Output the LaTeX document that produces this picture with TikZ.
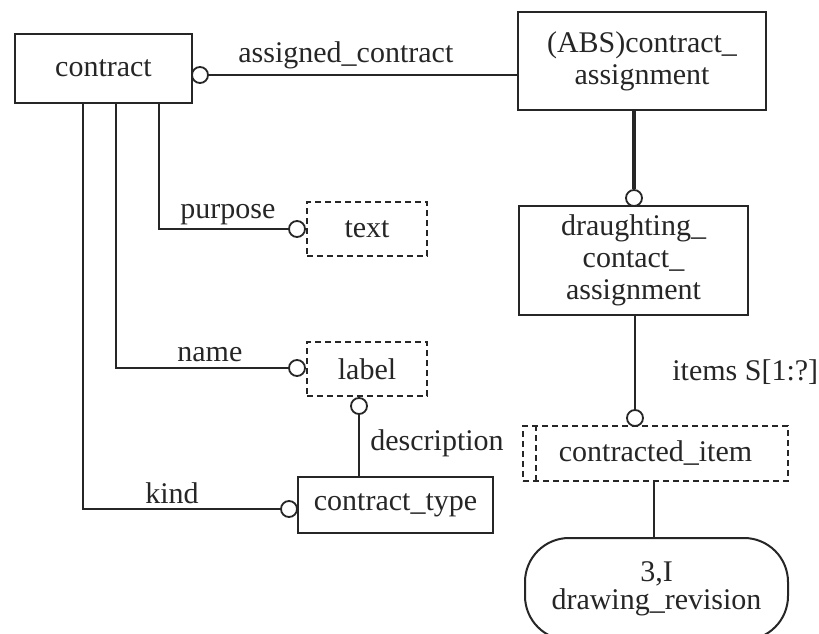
\documentclass[tikz,border=0pt]{standalone}
\usepackage{fontspec}
\setmainfont{Liberation Serif}
\begin{document}
\begin{tikzpicture}[x=0.5pt,y=-0.5pt,
  every node/.style={font=\fontsize{15}{16}\selectfont, text=black!85},
  ent/.style={draw=black!85, line width=1pt, rectangle, inner sep=0pt, align=center},
  typ/.style={ent, dash pattern=on 3pt off 2pt},
  rel/.style={draw=black!85, line width=0.9pt},
  thickrel/.style={draw=black!85, line width=1.6pt},
  ring/.style={draw=black!85, line width=0.9pt, circle, minimum size=8pt, inner sep=0pt, fill=white},
  lab/.style={anchor=base west, inner sep=0pt}
]
\useasboundingbox (0,0) rectangle (819,633);
\fill[white] (0,0) rectangle (819,633);

% entities
\node[ent, minimum width=88.5pt, minimum height=34.5pt] (contract) at (103.5,68.5) {contract};
\node[ent, minimum width=124pt, minimum height=49pt] (abs) at (642,61) {(ABS)contract\_\\assignment};
\node[ent, minimum width=114.5pt, minimum height=54.5pt] (dra) at (633.5,260.5) {draughting\_\\contact\_\\assignment};
\node[typ, minimum width=60pt, minimum height=27pt] (text) at (367,229) {text};
\node[typ, minimum width=60pt, minimum height=27pt] (label) at (367,369) {label};
\node[ent, minimum width=97.5pt, minimum height=28pt] (ctype) at (395.5,505) {contract\_type};
\node[typ, minimum width=132.5pt, minimum height=27.5pt] (citem) at (655.5,453.5) {contracted\_item};
\draw[black!85, line width=1pt, dash pattern=on 3pt off 2pt] (citem.north west) ++(14,0) coordinate (ci1) -- (ci1 |- citem.south);
\node[ent, rounded corners=22pt, minimum width=131.5pt, minimum height=51pt,
      font=\fontsize{15}{14}\selectfont] (rev) at (656.5,589) {3,I\\drawing\_revision};

% rings
\node[ring] (c1) at (200,75) {};
\node[ring] (c2) at (634,198) {};
\node[ring] (c3) at (635,418) {};
\node[ring] (c4) at (297,229) {};
\node[ring] (c5) at (297,368) {};
\node[ring] (c6) at (359,406) {};
\node[ring] (c7) at (289,509) {};

% connectors
\coordinate (p1) at (159,103);
\coordinate (p2) at (116,103);
\coordinate (p3) at (83,103);
\draw[rel] (c1.east) -- (c1.east -| abs.west);
\draw[thickrel] (abs.south -| c2.north) -- (c2.north);
\draw[rel] (dra.south -| c3.north) -- (c3.north);
\draw[rel] (citem.south -| 654,0) -- (rev.north -| 654,0);
\draw[rel] (p1) |- (c4.west);
\draw[rel] (p2) |- (c5.west);
\draw[rel] (p3) |- (c7.west);
\draw[rel] (c6.south) -- (c6.south |- ctype.north);

% labels
\node[lab] (l1) at (238,62) {assigned\_contract};
\node[lab] (l2) at (180,218) {purpose};
\node[lab] (l3) at (177,361) {name};
\node[lab] (l4) at (370,450) {description};
\node[lab] (l5) at (145,503) {kind};
\node[lab] (l6) at (672,380) {items S[1:?]};
\end{tikzpicture}
\end{document}
